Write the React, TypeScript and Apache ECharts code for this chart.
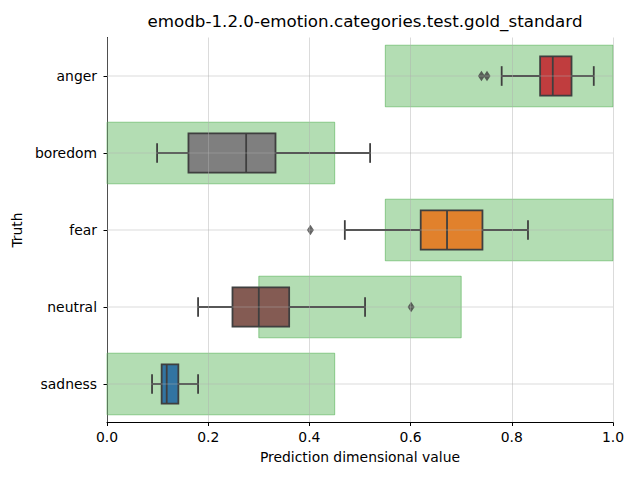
import React, { useEffect, useRef } from "react";
import * as echarts from "echarts";

const categories = ["anger", "boredom", "fear", "neutral", "sadness"];
const rangeLow = [0.55, 0.0, 0.55, 0.3, 0.0];
const rangeHigh = [1.0, 0.45, 1.0, 0.7, 0.45];
const whiskerLow = [0.78, 0.099, 0.47, 0.18, 0.089];
const quartile1 = [0.856, 0.161, 0.62, 0.248, 0.108];
const medians = [0.881, 0.275, 0.672, 0.3, 0.118];
const quartile3 = [0.918, 0.333, 0.742, 0.36, 0.141];
const whiskerHigh = [0.962, 0.52, 0.832, 0.51, 0.18];
const outlierValues = [0.74, 0.751, 0.402, 0.601];
const outlierCategories = ["anger", "anger", "fear", "neutral"];
const boxColors = ["#c03d3e", "#7f7f7f", "#e1812c", "#845b53", "#3274a1"];
const xTicks = [0, 0.2, 0.4, 0.6, 0.8, 1.0];

const FONT = "DejaVu Sans";
const EDGE = "#3f3f3f";

export default function App() {
  const ref = useRef<HTMLDivElement>(null);
  useEffect(() => {
    if (!ref.current) return;
    const chart = echarts.init(ref.current, null, { renderer: "svg" });

    const rangeData = categories.map((c, i) => [rangeLow[i], rangeHigh[i], i]);
    const boxData = categories.map((c, i) => [
      i,
      whiskerLow[i],
      quartile1[i],
      medians[i],
      quartile3[i],
      whiskerHigh[i],
    ]);
    const gridData = categories.map((c, i) => [xTicks[0], xTicks[xTicks.length - 1], i]);
    const outlierData = outlierValues.map((v, i) => [v, outlierCategories[i]]);

    chart.setOption({
      animation: false,
      title: {
        text: "emodb-1.2.0-emotion.categories.test.gold_standard",
        left: 360,
        top: 7,
        textAlign: "center",
        textStyle: { fontFamily: FONT, fontSize: 16.7, fontWeight: "normal", color: "#000" },
      },
      grid: { left: 107, right: 27, top: 37.5, bottom: 57.5, containLabel: false },
      xAxis: {
        type: "value",
        min: 0,
        max: 1,
        interval: 0.2,
        z: 5,
        name: "Prediction dimensional value",
        nameLocation: "middle",
        nameGap: 27,
        nameTextStyle: { fontFamily: FONT, fontSize: 13.9, color: "#000" },
        axisLine: { show: true, lineStyle: { color: "#000", width: 1 } },
        axisTick: { show: true, length: 3.5, lineStyle: { color: "#000", width: 1 } },
        axisLabel: {
          fontFamily: FONT,
          fontSize: 13.9,
          color: "#000",
          margin: 7,
          formatter: (v: number) => v.toFixed(1),
        },
        splitLine: { show: true, lineStyle: { color: "rgba(176,176,176,0.45)", width: 1 } },
      },
      yAxis: {
        type: "category",
        data: categories,
        inverse: true,
        name: "Truth",
        nameLocation: "middle",
        nameRotate: 90,
        nameGap: 73,
        nameTextStyle: { fontFamily: FONT, fontSize: 13.9, color: "#000" },
        axisLine: { show: true, lineStyle: { color: "#000", width: 1 } },
        axisTick: { show: true, alignWithLabel: true, length: 3.5, lineStyle: { color: "#000", width: 1 } },
        axisLabel: { fontFamily: FONT, fontSize: 13.9, color: "#000", margin: 10 },
        splitLine: { show: false },
      },
      series: [
        {
          type: "custom",
          name: "range",
          z: 1,
          silent: true,
          encode: { x: [0, 1], y: 2 },
          data: rangeData,
          renderItem: (params: any, api: any) => {
            const cat = api.value(2);
            const p0 = api.coord([api.value(0), cat]);
            const p1 = api.coord([api.value(1), cat]);
            const band = api.size([0, 1])[1];
            const h = band * 0.8;
            return {
              type: "rect",
              shape: { x: p0[0], y: p0[1] - h / 2, width: p1[0] - p0[0], height: h },
              style: { fill: "rgba(44,160,44,0.36)", stroke: "rgba(44,160,44,0.45)", lineWidth: 1 },
            };
          },
        },
        {
          type: "custom",
          name: "box",
          z: 3,
          silent: true,
          encode: { x: [1, 2, 3, 4, 5], y: 0 },
          data: boxData,
          renderItem: (params: any, api: any) => {
            const cat = api.value(0);
            const wl = api.coord([api.value(1), cat]);
            const a = api.coord([api.value(2), cat]);
            const m = api.coord([api.value(3), cat]);
            const b = api.coord([api.value(4), cat]);
            const wh = api.coord([api.value(5), cat]);
            const band = api.size([0, 1])[1];
            const h = band * 0.51;
            const cap = h / 2;
            const y = a[1];
            const ls = { stroke: EDGE, lineWidth: 1.8 };
            return {
              type: "group",
              children: [
                { type: "line", shape: { x1: wl[0], y1: y, x2: a[0], y2: y }, style: ls },
                { type: "line", shape: { x1: b[0], y1: y, x2: wh[0], y2: y }, style: ls },
                { type: "line", shape: { x1: wl[0], y1: y - cap / 2, x2: wl[0], y2: y + cap / 2 }, style: ls },
                { type: "line", shape: { x1: wh[0], y1: y - cap / 2, x2: wh[0], y2: y + cap / 2 }, style: ls },
                {
                  type: "rect",
                  shape: { x: a[0], y: y - h / 2, width: b[0] - a[0], height: h },
                  style: { fill: boxColors[params.dataIndex], stroke: EDGE, lineWidth: 1.8 },
                },
                { type: "line", shape: { x1: m[0], y1: y - h / 2, x2: m[0], y2: y + h / 2 }, style: ls },
              ],
            };
          },
        },
        {
          type: "scatter",
          name: "outliers",
          z: 4,
          silent: true,
          symbol: "diamond",
          symbolSize: [7, 10.5],
          itemStyle: { color: EDGE },
          data: outlierData,
        },
        {
          type: "custom",
          name: "hgrid",
          z: 6,
          silent: true,
          encode: { x: [0, 1], y: 2 },
          data: gridData,
          renderItem: (params: any, api: any) => {
            const cat = api.value(2);
            const p0 = api.coord([api.value(0), cat]);
            const p1 = api.coord([api.value(1), cat]);
            return {
              type: "line",
              shape: { x1: p0[0], y1: p0[1], x2: p1[0], y2: p1[1] },
              style: { stroke: "rgba(176,176,176,0.45)", lineWidth: 1 },
            };
          },
        },
      ],
    });
    return () => chart.dispose();
  }, []);
  return <div ref={ref} style={{ width: 640, height: 480, position: "absolute", left: 0, top: 0 }} />;
}
